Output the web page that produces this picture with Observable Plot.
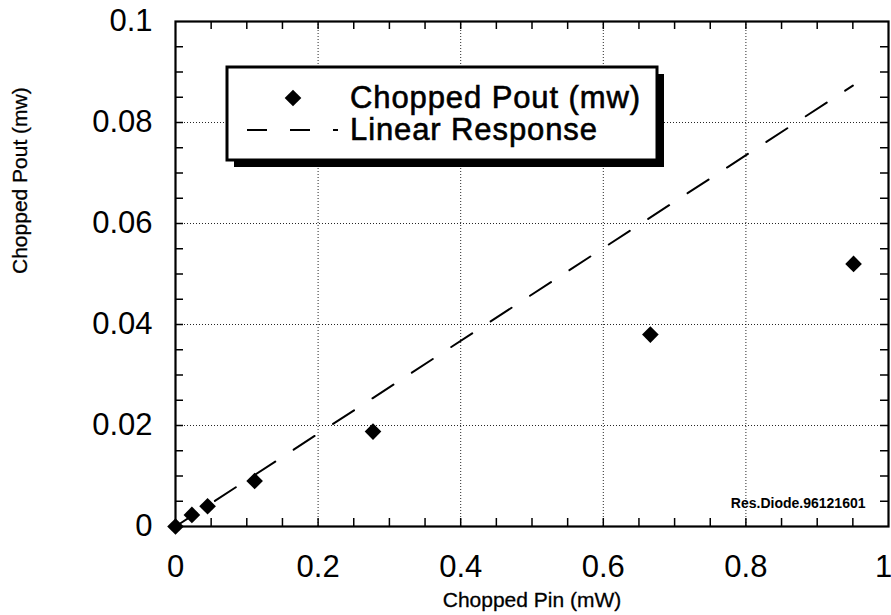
<!DOCTYPE html>
<html><head><meta charset="utf-8">
<script src="https://cdn.jsdelivr.net/npm/d3@7"></script>
<script src="https://cdn.jsdelivr.net/npm/@observablehq/plot@0.6"></script>
<style>body{margin:0;background:#fff;} svg{display:block}</style>
</head><body><div id="chart"></div>
<script>
// ---- data ----
const pin  = [0, 0.023, 0.045, 0.111, 0.277, 0.666, 0.951];
const pout = [0, 0.0023, 0.0040, 0.0090, 0.0188, 0.0380, 0.0520];
const linearPin  = [0, 0.95];
const linearPout = [0, 0.0873];
const xTickValues = [0, 0.2, 0.4, 0.6, 0.8, 1];
const yTickValues = [0, 0.02, 0.04, 0.06, 0.08, 0.1];
const xMinorTicks = [0.05,0.1,0.15,0.2,0.25,0.3,0.35,0.4,0.45,0.5,0.55,0.6,0.65,0.7,0.75,0.8,0.85,0.9,0.95];
const yMinorTicks = [0.005,0.01,0.015,0.02,0.025,0.03,0.035,0.04,0.045,0.05,0.055,0.06,0.065,0.07,0.075,0.08,0.085,0.09,0.095];
const xLabel = "Chopped Pin (mW)";
const yLabel = "Chopped Pout (mw)";
const seriesNames = ["Chopped Pout (mw)", "Linear Response"];
const note = "Res.Diode.96121601";

// ---- layout ----
const W = 891, H = 615, mL = 175, mR = 3, mT = 21, mB = 89;
const innerW = W - mL - mR, innerH = H - mT - mB;
const tickLen = 8;
const font = "'Liberation Sans', Arial, Helvetica, sans-serif";

const points = pin.map((x, i) => ({x, y: pout[i]}));
const linePts = linearPin.map((x, i) => ({x, y: linearPout[i]}));
const grid = {stroke: "black", strokeWidth: 1, strokeDasharray: "1,2", strokeOpacity: 0.85};
const tk = {stroke: "black", strokeWidth: 1.5};
const heavy = {fill: "black", stroke: "black", strokeWidth: 0.6};

const svg = Plot.plot({
  width: W, height: H,
  marginLeft: mL, marginRight: mR, marginTop: mT, marginBottom: mB,
  style: {fontFamily: font, background: "white", color: "black"},
  x: {domain: [0, 1]},
  y: {domain: [0, 0.1]},
  marks: [
    Plot.ruleX(xTickValues.slice(1, -1), grid),
    Plot.ruleY(yTickValues.slice(1, -1), grid),
    Plot.tickX(xMinorTicks, {x: d => d, insetTop: innerH - tickLen, ...tk}),
    Plot.tickX(xMinorTicks, {x: d => d, insetBottom: innerH - tickLen, ...tk}),
    Plot.tickY(yMinorTicks, {y: d => d, insetRight: innerW - tickLen, ...tk}),
    Plot.tickY(yMinorTicks, {y: d => d, insetLeft: innerW - tickLen, ...tk}),
    Plot.line(linePts, {x: "x", y: "y", stroke: "black", strokeWidth: 2, strokeDasharray: "25,22"}),
    Plot.dot(points, {x: "x", y: "y", symbol: "diamond2", r: 7.5, fill: "black", stroke: "none"}),
    Plot.frame({stroke: "black", strokeWidth: 2.2}),
    Plot.axisX(xTickValues.slice(0, -1), {tickSize: 0, tickPadding: 28, fontSize: 31, tickFormat: d => String(d), label: null, ...heavy}),
    Plot.axisX(xTickValues.slice(-1), {tickSize: 0, tickPadding: 28, fontSize: 31, tickFormat: d => String(d), label: null, dx: -5, ...heavy}),
    Plot.axisY(yTickValues, {tickSize: 0, tickPadding: 23, fontSize: 31, tickFormat: d => String(d), label: null, ...heavy}),
    Plot.text([xLabel], {text: d => d, frameAnchor: "bottom", lineAnchor: "middle", dy: 74, fontSize: 21, fill: "black", stroke: "black", strokeWidth: 0.3}),
    Plot.text([yLabel], {text: d => d, frameAnchor: "left", lineAnchor: "middle", rotate: -90, dx: -155, fontSize: 21, fill: "black", stroke: "black", strokeWidth: 0.3}),
    Plot.text([note], {text: d => d, frameAnchor: "bottom-right", textAnchor: "end", lineAnchor: "middle", dx: -23, dy: -23, fontSize: 14, fontWeight: "bold", fill: "black"})
  ]
});
document.getElementById("chart").append(svg);

// ---- legend box (layout in pixels) ----
const s = d3.select(svg);
const lg = s.append("g").attr("font-family", font).attr("text-anchor", "start");
const bx = 227, by = 67, bw = 430, bh = 93;
lg.append("rect").attr("x", bx + 7).attr("y", by + 7).attr("width", bw).attr("height", bh).attr("fill", "black");
lg.append("rect").attr("x", bx).attr("y", by).attr("width", bw).attr("height", bh)
  .attr("fill", "white").attr("stroke", "black").attr("stroke-width", 3);
lg.append("path").attr("d", d3.symbol(d3.symbolDiamond2, Math.PI * 7.5 * 7.5)())
  .attr("transform", "translate(293,98)").attr("fill", "black");
lg.append("line").attr("x1", 247).attr("x2", 338).attr("y1", 130).attr("y2", 130)
  .attr("stroke", "black").attr("stroke-width", 2).attr("stroke-dasharray", "20,23");
lg.append("text").attr("x", 350).attr("y", 108).attr("font-size", 31).attr("fill", "black").attr("letter-spacing", 0.9)
  .attr("stroke", "black").attr("stroke-width", 0.6).attr("text-anchor", "start").text(seriesNames[0]);
lg.append("text").attr("x", 350).attr("y", 140).attr("font-size", 31).attr("fill", "black").attr("letter-spacing", 0.9)
  .attr("stroke", "black").attr("stroke-width", 0.6).attr("text-anchor", "start").text(seriesNames[1]);
</script>
</body></html>
